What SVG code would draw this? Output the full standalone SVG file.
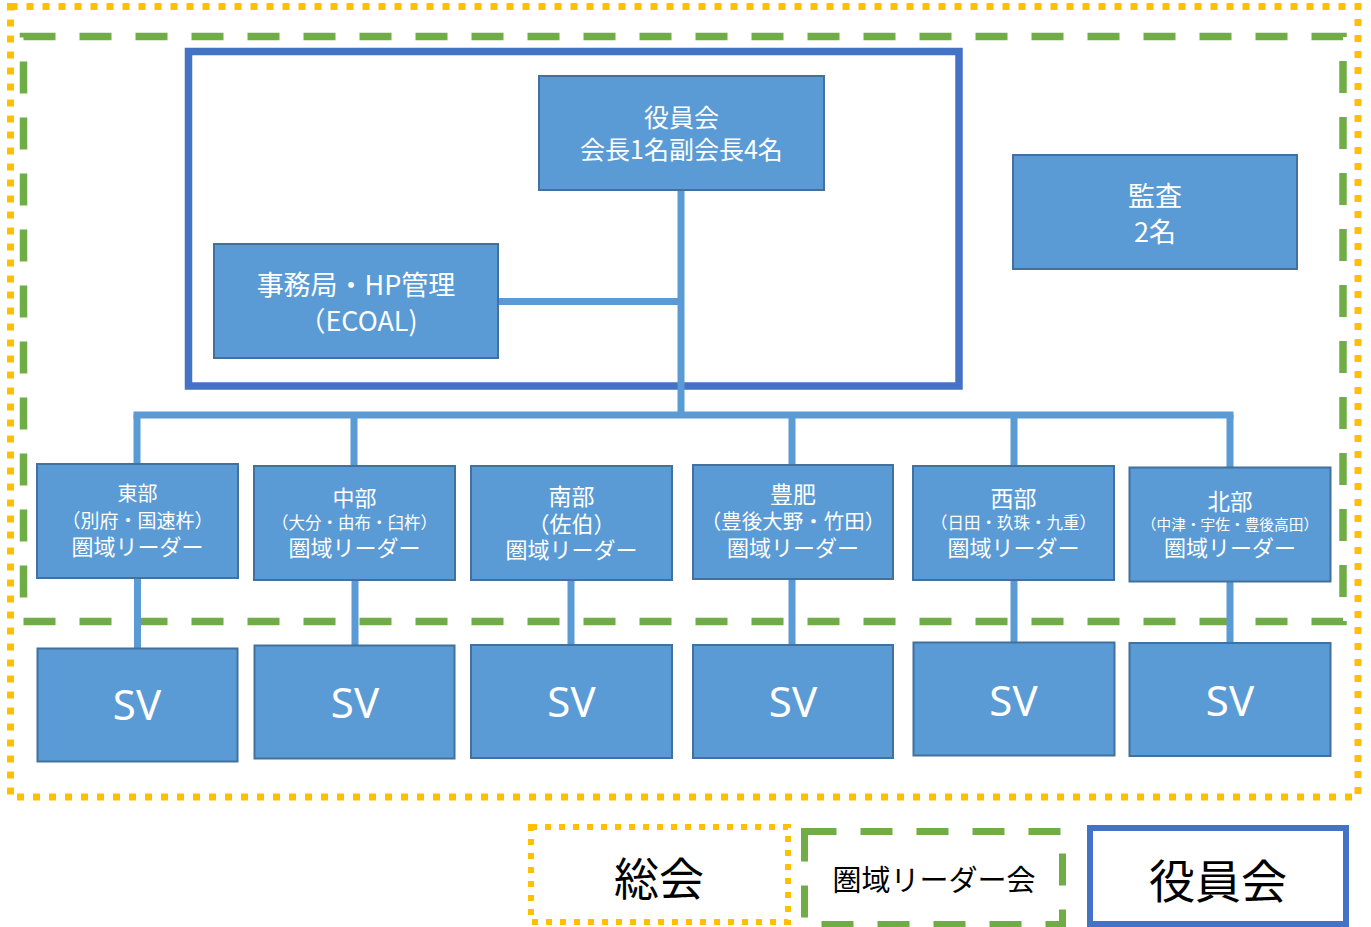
<svg xmlns="http://www.w3.org/2000/svg" width="1371" height="927" viewBox="0 0 1371 927">
<style>
.box{fill:#5B9BD5;stroke:#41719C;stroke-width:2}
.t{font-family:"Noto Sans CJK JP","Noto Sans",sans-serif;fill:#fff;text-anchor:middle;dominant-baseline:central}
.sv{font-family:"Noto Sans","Open Sans",sans-serif;fill:#fff;text-anchor:middle;font-size:42px}
.lg{font-family:"Noto Sans CJK JP","Noto Sans",sans-serif;fill:#000;text-anchor:middle;dominant-baseline:central}
.conn{stroke:#5B9BD5;stroke-width:7;fill:none}
.dot{fill:none;stroke:#FFC000;stroke-width:7;stroke-dasharray:7 9}
.dash{fill:none;stroke:#70AD47;stroke-width:7.5;stroke-dasharray:32 24}
.officer{fill:none;stroke:#4472C4;stroke-width:7.5}
</style>
<rect width="1371" height="927" fill="#fff"/>
<g id="general-assembly-frame"><rect class="dot" x="10.5" y="6.5" width="1347.5" height="790.5"/></g>
<g id="leader-frame"><rect class="dash" x="23.5" y="36.5" width="1319.5" height="585"/></g>
<g id="officer-frame"><rect class="officer" x="188.5" y="51.5" width="770.5" height="334.5"/></g>
<g id="connectors">
<path class="conn" d="M681,190 V415"/>
<path class="conn" d="M498,301.5 H681"/>
<path class="conn" d="M133.5,415 H1233.5"/>
<path class="conn" d="M137,415 V464 M354,415 V465 M792,415 V464 M1014,415 V466 M1230,415 V467"/>
<path class="conn" d="M137.5,578 V648 M355,580 V645 M571,580 V645 M792,579 V645 M1014,580 V642 M1230,581 V643"/>
</g>
<g id="node-officers"><rect class="box" x="539" y="76" width="285" height="114"/>
<text class="t" x="681.5" y="116" font-size="25">役員会</text>
<text class="t" x="681.5" y="148" font-size="25">会長1名副会長4名</text></g>
<g id="node-secretariat"><rect class="box" x="214" y="244" width="284" height="114"/>
<text class="t" x="356" y="283" font-size="27">事務局・HP管理</text>
<text class="t" x="358" y="319" font-size="27">（ECOAL)</text></g>
<g id="node-audit"><rect class="box" x="1013" y="155" width="284" height="114"/>
<text class="t" x="1155" y="194" font-size="27">監査</text>
<text class="t" x="1155" y="230" font-size="27">2名</text></g>
<g id="node-east"><rect class="box" x="37" y="464" width="201" height="114"/>
<text class="t" x="137.5" y="492" font-size="20">東部</text>
<text class="t" x="137.5" y="519" font-size="19">（別府・国速杵）</text>
<text class="t" x="137.5" y="545" font-size="22">圏域リーダー</text></g>
<g id="node-central"><rect class="box" x="254" y="466" width="201" height="114"/>
<text class="t" x="354.5" y="496" font-size="22">中部</text>
<text class="t" x="354.5" y="522" font-size="16.5">（大分・由布・臼杵）</text>
<text class="t" x="354.5" y="546" font-size="22">圏域リーダー</text></g>
<g id="node-south"><rect class="box" x="471" y="466" width="201" height="114"/>
<text class="t" x="571.5" y="495" font-size="23">南部</text>
<text class="t" x="571.5" y="522" font-size="22">（佐伯）</text>
<text class="t" x="571.5" y="548" font-size="22">圏域リーダー</text></g>
<g id="node-hohi"><rect class="box" x="693" y="465" width="200" height="114"/>
<text class="t" x="793" y="493" font-size="23">豊肥</text>
<text class="t" x="793" y="520" font-size="20.5">（豊後大野・竹田）</text>
<text class="t" x="793" y="546" font-size="22">圏域リーダー</text></g>
<g id="node-west"><rect class="box" x="913" y="466" width="201" height="114"/>
<text class="t" x="1013.5" y="497" font-size="23">西部</text>
<text class="t" x="1013.5" y="522" font-size="16.5">（日田・玖珠・九重）</text>
<text class="t" x="1013.5" y="546" font-size="22">圏域リーダー</text></g>
<g id="node-north"><rect class="box" x="1129.5" y="467.5" width="201" height="114"/>
<text class="t" x="1230" y="500" font-size="22.5">北部</text>
<text class="t" x="1230" y="523" font-size="14.7">（中津・宇佐・豊後高田）</text>
<text class="t" x="1230" y="546" font-size="22">圏域リーダー</text></g>
<g id="node-sv1"><rect class="box" x="37.5" y="648.5" width="200" height="113"/><text class="sv" x="137" y="720">SV</text></g>
<g id="node-sv2"><rect class="box" x="254.5" y="645.5" width="200" height="113"/><text class="sv" x="355" y="718">SV</text></g>
<g id="node-sv3"><rect class="box" x="471" y="645" width="201" height="113"/><text class="sv" x="571.5" y="717">SV</text></g>
<g id="node-sv4"><rect class="box" x="693" y="645" width="200" height="113"/><text class="sv" x="793" y="717">SV</text></g>
<g id="node-sv5"><rect class="box" x="913.5" y="642.5" width="201" height="113"/><text class="sv" x="1013.5" y="715.5">SV</text></g>
<g id="node-sv6"><rect class="box" x="1129.5" y="643" width="201" height="113"/><text class="sv" x="1230" y="715.5">SV</text></g>
<g id="legend-general"><rect x="531" y="827" width="257" height="95" fill="#fff" stroke="#FFC000" stroke-width="6" stroke-dasharray="6 8"/>
<text class="lg" x="659" y="876" font-size="45">総会</text></g>
<g id="legend-leaders"><rect x="804.5" y="831.5" width="258" height="93" fill="#fff" stroke="#70AD47" stroke-width="7" stroke-dasharray="32 24"/>
<text class="lg" x="934" y="878" font-size="29">圏域リーダー会</text></g>
<g id="legend-officers"><rect x="1090" y="828" width="256" height="96" fill="#fff" stroke="#4472C4" stroke-width="6"/>
<text class="lg" x="1218" y="878" font-size="46">役員会</text></g>
</svg>
